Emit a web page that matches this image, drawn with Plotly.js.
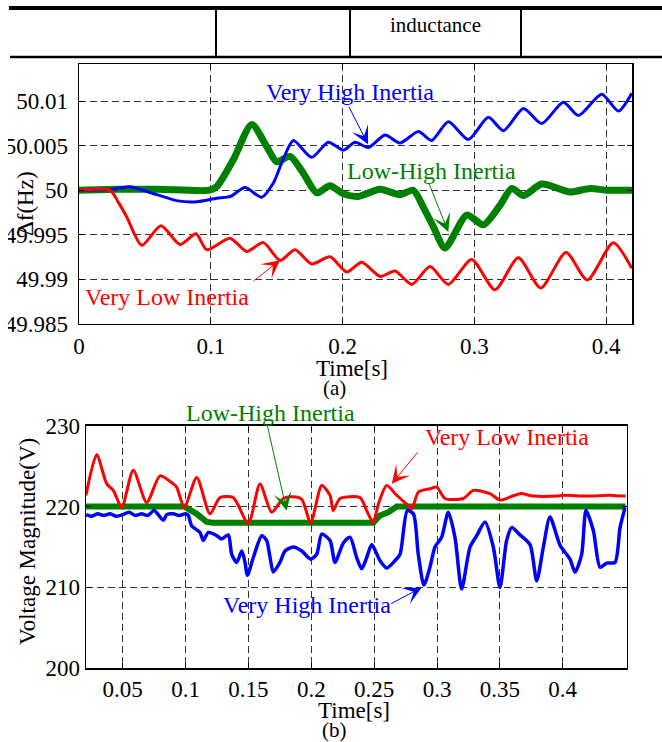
<!DOCTYPE html>
<html>
<head>
<meta charset="utf-8">
<script src="https://cdn.plot.ly/plotly-3.0.1.min.js"></script>
<style>html,body{margin:0;padding:0;background:#fff;}#chart{width:662px;height:742px;}</style>
</head>
<body>
<div id="chart"></div>
<script>
// ---------- (a) frequency deviation ----------
const fRedT = [0,0.0235,0.030,0.0362,0.0476,0.0622,0.0767,0.0888,0.0969,0.1146,0.1273,0.1399,0.1526,0.164,0.1766,0.1905,0.2032,0.2146,0.2285,0.2399,0.2525,0.2664,0.2803,0.298,0.3157,0.3334,0.3504,0.3696,0.3858,0.4055,0.4195];
const fRedV = [50,50,49.9986,49.997,49.9938,49.9960,49.9939,49.9951,49.9933,49.9946,49.9931,49.9941,49.9921,49.9933,49.9917,49.9925,49.9908,49.9919,49.9903,49.9909,49.9894,49.9914,49.9894,49.9922,49.9888,49.9924,49.9890,49.9930,49.9899,49.9941,49.9912];

const fBlueT = [0,0.025,0.0387,0.046,0.059,0.075,0.0893,0.1045,0.115,0.126,0.1387,0.1475,0.155,0.1627,0.1766,0.1892,0.2006,0.2095,0.2196,0.2323,0.2436,0.2576,0.2677,0.2803,0.2955,0.3107,0.3221,0.3373,0.3512,0.3676,0.379,0.3967,0.4094,0.4195];
const fBlueV = [50,50.0001,50.0004,50.0001,49.9995,49.9988,49.9987,49.9991,49.9993,50.0003,49.9992,50.0008,50.0035,50.0056,50.0037,50.0054,50.0045,50.0054,50.0048,50.0062,50.0053,50.0066,50.0056,50.0077,50.0057,50.0082,50.0067,50.0092,50.0075,50.0099,50.0084,50.0108,50.0089,50.0109];

const fGreenT = [0,0.03,0.06,0.099,0.1045,0.117,0.1311,0.1425,0.15,0.1602,0.1703,0.1804,0.1905,0.2006,0.212,0.2285,0.2436,0.2537,0.2613,0.2689,0.2778,0.2943,0.3069,0.3195,0.3284,0.3373,0.3512,0.3727,0.3879,0.40,0.42];
const fGreenV = [50,50.0001,50.0001,50.0,50.0004,50.0034,50.0074,50.0049,50.0032,50.0038,50.0019,49.9997,50.0005,49.9996,49.9993,50.0001,49.9995,50.0,49.9981,49.9959,49.9935,49.9972,49.9961,49.9983,50.0002,49.9994,50.0007,49.9998,50.0002,50.0,50.0];

const fXTicks = [0,0.1,0.2,0.3,0.4];
const fXTickText = ['0','0.1','0.2','0.3','0.4'];
const fYTicks = [49.985,49.99,49.995,50,50.005,50.01];
const fYTickText = ['49.985','49.99','49.995','50','50.005','50.01'];

// ---------- (b) voltage magnitude ----------
const vRedT = [0.0208,0.0293,0.0373,0.0425,0.0492,0.0584,0.0691,0.0797,0.0902,0.0929,0.099,0.1089,0.1194,0.1274,0.138,0.1499,0.1592,0.1685,0.1777,0.1857,0.1924,0.1995,0.2083,0.2149,0.2175,0.2228,0.2387,0.2441,0.2493,0.2533,0.26,0.2679,0.2759,0.2799,0.2852,0.2944,0.2998,0.3064,0.3209,0.3289,0.3421,0.3501,0.366,0.3766,0.395,0.4,0.42,0.438,0.4455,0.45];
const vRedV = [221.4,226.4,222.8,222.0,219.9,224.5,220.5,223.8,222.8,222.4,219.9,223.6,219.1,221.1,221.1,217.9,222.8,219.3,221.0,221.2,220.9,218.0,222.6,221.4,219.5,221.0,221.1,219.5,218.0,220.3,222.6,221.4,220.3,219.7,221.8,222.2,222.4,221.0,221.0,222.0,221.6,220.8,221.6,221.3,221.3,221.4,221.3,221.4,221.3,221.3];

const vGreenT = [0.0208,0.099,0.1089,0.1168,0.122,0.2493,0.2546,0.2612,0.268,0.45];
const vGreenV = [220,220,219.1,218.1,218.0,218.0,218.9,219.3,220,220];

const vBlueT = [0.0208,0.025,0.03,0.035,0.04,0.045,0.05,0.055,0.06,0.065,0.07,0.075,0.0823,0.085,0.09,0.095,0.1,0.1022,0.1049,0.1115,0.1141,0.1181,0.1248,0.1287,0.134,0.1367,0.1407,0.1447,0.1473,0.1491,0.1539,0.1606,0.1645,0.1672,0.1698,0.1751,0.1791,0.1857,0.1924,0.1995,0.2043,0.2083,0.2149,0.2189,0.2255,0.2308,0.2361,0.2401,0.2441,0.2481,0.2547,0.26,0.2666,0.2706,0.2764,0.2812,0.2851,0.2896,0.2944,0.2984,0.3037,0.309,0.3143,0.3196,0.3263,0.3316,0.3382,0.3448,0.3501,0.3554,0.3594,0.366,0.374,0.3793,0.3846,0.3899,0.3979,0.4058,0.4098,0.4151,0.4185,0.4244,0.4297,0.435,0.4416,0.4456,0.4496];
const vBlueV = [219.0,218.8,219.1,218.9,219.1,218.8,219.0,219.3,218.9,219.1,218.9,219.5,218.3,219.0,219.1,218.9,219.1,218.9,217.6,216.8,215.8,216.8,216.4,216.0,216.5,214.1,213.1,214.5,213.1,211.5,213.7,216.4,215.8,213.7,211.9,213.1,214.5,215.0,214.5,213.5,214.1,216.6,215.8,213.1,215.5,216.2,213.7,212.3,213.7,215.3,213.3,212.4,213.3,214.1,219.5,219.1,214.1,210.3,212.5,215.0,216.2,219.3,216.2,209.8,215.0,216.4,218.1,215.0,210.0,215.8,217.4,216.5,215.3,210.8,215.0,218.7,215.2,213.5,211.9,214.1,219.5,217.0,212.5,213.0,213.1,217.4,219.9];

const vXTicks = [0.05,0.1,0.15,0.2,0.25,0.3,0.35,0.4];
const vXTickText = ['0.05','0.1','0.15','0.2','0.25','0.3','0.35','0.4'];
const vYTicks = [200,210,220,230];
const vYTickText = ['200','210','220','230'];

const labelNames = ['Very High Inertia','Low-High Inertia','Very Low Inertia'];

// ---------- styling ----------
const W = 662, H = 742;
const px = v => v / W;
const py = v => 1 - v / H;
const FONT = "'Liberation Serif', 'DejaVu Serif', serif";
const BLUE = '#0000ff', RED = '#ff0000', GREEN = '#008000';

const lineSpline = (c, w) => ({color: c, width: w, shape: 'spline', smoothing: 0.7});
const traces = [
  {x: fGreenT, y: fGreenV, xaxis: 'x', yaxis: 'y', mode: 'lines', line: lineSpline(GREEN, 7)},
  {x: fBlueT, y: fBlueV, xaxis: 'x', yaxis: 'y', mode: 'lines', line: lineSpline(BLUE, 3)},
  {x: fRedT, y: fRedV, xaxis: 'x', yaxis: 'y', mode: 'lines', line: lineSpline(RED, 3)},
  {x: vGreenT, y: vGreenV, xaxis: 'x2', yaxis: 'y2', mode: 'lines', line: {color: GREEN, width: 6}},
  {x: vBlueT, y: vBlueV, xaxis: 'x2', yaxis: 'y2', mode: 'lines', line: lineSpline(BLUE, 3.5)},
  {x: vRedT, y: vRedV, xaxis: 'x2', yaxis: 'y2', mode: 'lines', line: lineSpline(RED, 3)}
];

const axBase = {
  showline: true, linecolor: '#000', linewidth: 1.5, mirror: 'allticks',
  ticks: 'inside', ticklen: 5, tickcolor: '#000', tickwidth: 1,
  showgrid: true, gridcolor: '#333', gridwidth: 1, griddash: '7px,4px',
  zeroline: false, tickmode: 'array',
  tickfont: {family: FONT, size: 23, color: '#000'}
};

const textAnn = (xr, yr, x, y, text, color) => ({
  xref: xr, yref: yr, x: x, y: y, text: text, showarrow: false,
  font: {family: FONT, size: 24, color: color}, xanchor: 'center', yanchor: 'middle'
});
const arrowAnn = (xr, yr, x, y, ax, ay, color) => ({
  xref: xr, yref: yr, x: x, y: y, text: '', showarrow: true,
  arrowhead: 3, arrowsize: 3, arrowwidth: 1, arrowcolor: color,
  ax: ax, ay: ay, standoff: 0
});
const paperText = (x, y, text, size, angle, color) => ({
  xref: 'paper', yref: 'paper', x: px(x), y: py(y), text: text, showarrow: false,
  textangle: angle || 0, font: {family: FONT, size: size, color: color || '#000'},
  xanchor: 'center', yanchor: 'middle'
});

const layout = {
  width: W, height: H,
  margin: {l: 0, r: 0, t: 0, b: 0, pad: 0},
  paper_bgcolor: '#fff', plot_bgcolor: '#fff',
  showlegend: false,
  xaxis: Object.assign({}, axBase, {domain: [px(79), px(632.4)], range: [0, 0.42], anchor: 'y',
    tickvals: fXTicks, ticktext: fXTickText, ticklabelstandoff: 1}),
  yaxis: Object.assign({}, axBase, {domain: [py(323.5), py(64)], range: [49.985, 50.0142], anchor: 'x',
    tickvals: fYTicks, ticktext: fYTickText, ticklabelstandoff: 5}),
  xaxis2: Object.assign({}, axBase, {domain: [px(86), px(626.7)], range: [0.0208, 0.4509], anchor: 'y2',
    tickvals: vXTicks, ticktext: vXTickText, ticklabelstandoff: 0}),
  yaxis2: Object.assign({}, axBase, {domain: [py(668.3), py(425.7)], range: [200, 230], anchor: 'x2',
    tickvals: vYTicks, ticktext: vYTickText, ticklabelstandoff: 0}),
  shapes: [
    // fragment of the table above the figure
    {type: 'line', xref: 'paper', yref: 'paper', x0: px(9), x1: px(662), y0: py(8), y1: py(8), line: {color: '#000', width: 4}},
    {type: 'line', xref: 'paper', yref: 'paper', x0: px(10), x1: px(662), y0: py(57), y1: py(57), line: {color: '#000', width: 2.5}},
    {type: 'line', xref: 'paper', yref: 'paper', x0: px(216), x1: px(216), y0: py(9), y1: py(57), line: {color: '#000', width: 2}},
    {type: 'line', xref: 'paper', yref: 'paper', x0: px(350), x1: px(350), y0: py(9), y1: py(57), line: {color: '#000', width: 2}},
    {type: 'line', xref: 'paper', yref: 'paper', x0: px(521), x1: px(521), y0: py(9), y1: py(57), line: {color: '#000', width: 2}},
    // crop edge of the original figure
    {type: 'rect', xref: 'paper', yref: 'paper', x0: 0, x1: px(8), y0: py(340), y1: py(62), fillcolor: '#fff', line: {width: 0}, layer: 'above'}
  ],
  annotations: [
    paperText(435, 25, 'inductance', 21),
    paperText(25, 204, 'Δf(Hz)', 23, -90),
    paperText(352, 368, 'Time[s]', 23),
    paperText(334, 388, '(a)', 21),
    paperText(27, 542, 'Voltage Magnitude(V)', 23, -90),
    paperText(354, 710, 'Time[s]', 23),
    paperText(334, 730, '(b)', 21),
    // (a) labels
    textAnn('x', 'y', 0.2057, 50.01101, labelNames[0], BLUE),
    textAnn('x', 'y', 0.2679, 50.00213, labelNames[1], GREEN),
    textAnn('x', 'y', 0.0666, 49.98798, labelNames[2], RED),
    arrowAnn('x', 'y', 0.2194, 50.00517, -20, -39, BLUE),
    arrowAnn('x', 'y', 0.2803, 49.99531, -20, -50, GREEN),
    arrowAnn('x', 'y', 0.1526, 49.99213, -28, 22, RED),
    // (b) labels
    paperText(270, 413, labelNames[1], 24, 0, GREEN),
    textAnn('x2', 'y2', 0.3554, 228.55, labelNames[2], RED),
    textAnn('x2', 'y2', 0.1964, 207.86, labelNames[0], BLUE),
    arrowAnn('x2', 'y2', 0.1804, 219.5, -20, -88, GREEN),
    arrowAnn('x2', 'y2', 0.264, 222.81, 27, -33, RED),
    arrowAnn('x2', 'y2', 0.2878, 210.0, -32, 17, BLUE)
  ]
};

Plotly.newPlot('chart', traces, layout, {staticPlot: true, displayModeBar: false});
</script>
</body>
</html>
